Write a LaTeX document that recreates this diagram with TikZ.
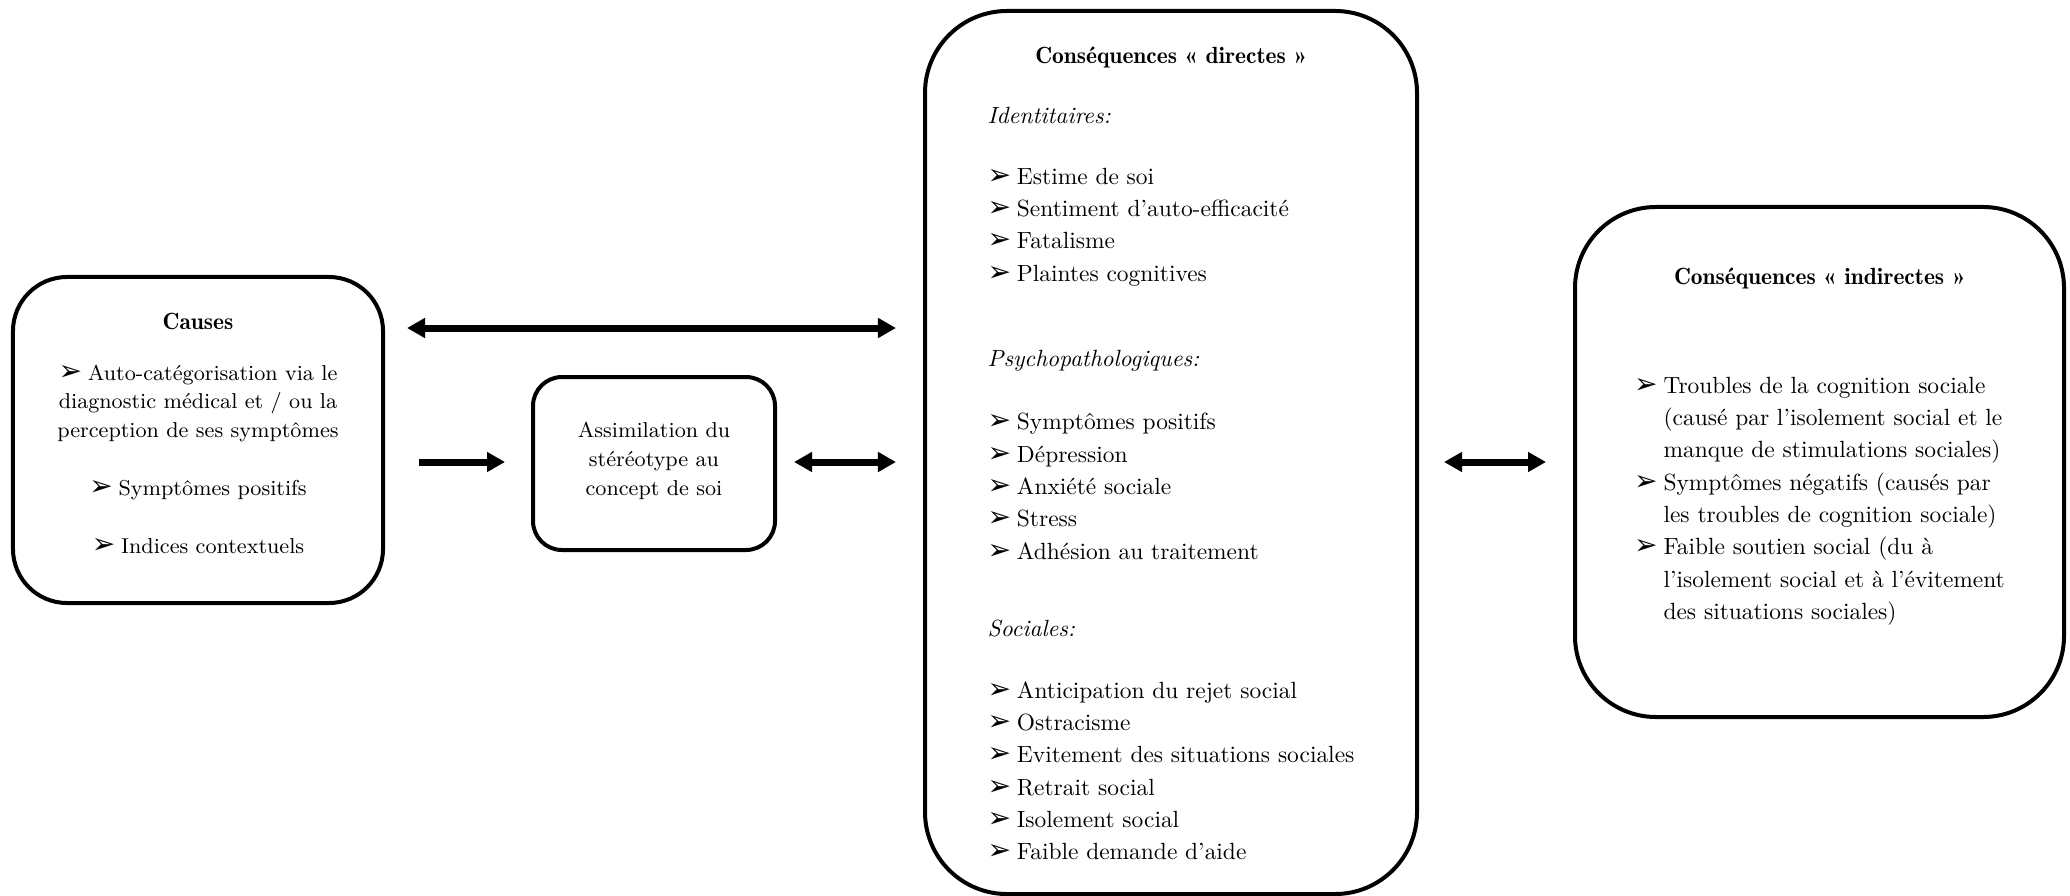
\documentclass[tikz,border=0pt]{standalone}
\usepackage{fontspec}
\newfontfamily\symfont{DejaVu Sans}
\usetikzlibrary{calc,arrows.meta}

\newcommand\corps{\fontsize{10}{13.8}\selectfont}
\newcommand\petit{\fontsize{9.2}{12.2}\selectfont}
\newcommand\titre{\fontseries{b}\fontsize{10}{13.8}\selectfont}
\newcommand\puce{\makebox[4.4mm][l]{\symfont\fontsize{12}{12}\selectfont ➢}}
\newcommand\retrait{\hspace*{4.4mm}}

\tikzset{
  boite/.style={draw, line width=0.6mm, rounded corners=#1, inner sep=0pt},
  fleche/.style={line width=1.05mm, -{Triangle[length=2.7mm, width=2.85mm]}},
  bifleche/.style={line width=1.05mm, {Triangle[length=2.7mm, width=2.85mm]}-{Triangle[length=2.7mm, width=2.85mm]}}
}

\begin{document}
\begin{tikzpicture}[x=0.15mm, y=-0.15mm]
  \useasboundingbox (0,0) rectangle (2070,896);
  % boxes
  \node[boite=8.1mm, minimum width=55.5mm, minimum height=48.9mm, font=\petit] (causes) at (198,440) {%
    \begin{tabular}{@{}c@{}}
      \titre Causes\\[3.23mm]
      \puce Auto-catégorisation via le\\
      diagnostic médical et / ou la\\
      perception de ses symptômes\\[4.43mm]
      \puce Symptômes positifs\\[4.43mm]
      \puce Indices contextuels\\[1.2mm]
    \end{tabular}};
  \node[boite=4.35mm, minimum width=36.3mm, minimum height=25.95mm, font=\fontsize{9.2}{12.4}\selectfont] (assim) at (654,463.5) {%
    \begin{tabular}{@{}c@{}}
      Assimilation du\\
      stéréotype au\\
      concept de soi\\[0.9mm]
    \end{tabular}};
  \node[boite=12.3mm, minimum width=73.8mm, minimum height=132.45mm, font=\corps] (direct) at (1171,452.5) {%
    \begin{tabular}{@{}l@{}}
      \multicolumn{1}{@{}c@{}}{\rule{0pt}{4.15mm}\titre Conséquences «~directes~»}\\[4.14mm]
      \textit{Identitaires:}\\[4.29mm]
      \puce Estime de soi\\
      \puce Sentiment d’auto-efficacité\\
      \puce Fatalisme\\
      \puce Plaintes cognitives\\[8.04mm]
      \textit{Psychopathologiques:}\\[4.59mm]
      \puce Symptômes positifs\\
      \puce Dépression\\
      \puce Anxiété sociale\\
      \puce Stress\\
      \puce Adhésion au traitement\\[6.69mm]
      \textit{Sociales:}\\[4.44mm]
      \puce Anticipation du rejet social\\
      \puce Ostracisme\\
      \puce Evitement des situations sociales\\
      \puce Retrait social\\
      \puce Isolement social\\
      \puce Faible demande d’aide
    \end{tabular}};
  \node[boite=12.15mm, minimum width=73.35mm, minimum height=76.5mm, font=\corps] (indirect) at (1819.5,462) {%
    \begin{tabular}{@{}l@{}}
      \multicolumn{1}{@{}c@{}}{\titre Conséquences «~indirectes~»}\\[11.49mm]
      \puce Troubles de la cognition sociale\\
      \retrait (causé par l’isolement social et le\\
      \retrait manque de stimulations sociales)\\
      \puce Symptômes négatifs (causés par\\
      \retrait les troubles de cognition sociale)\\
      \puce Faible soutien social (du à\\
      \retrait l’isolement social et à l’évitement\\
      \retrait des situations sociales)\\[4.95mm]
    \end{tabular}};
  % arrows
  \coordinate (haut) at (0,328);
  \coordinate (milieu) at (0,462);
  \draw[bifleche] ($(causes.east |- haut)+(22,0)$) -- ($(direct.west |- haut)+(-27,0)$);
  \draw[fleche] ($(causes.east |- milieu)+(34,0)$) -- ($(assim.west |- milieu)+(-26,0)$);
  \draw[bifleche] ($(assim.east |- milieu)+(17,0)$) -- ($(direct.west |- milieu)+(-27,0)$);
  \draw[bifleche] ($(direct.east |- milieu)+(25,0)$) -- ($(indirect.west |- milieu)+(-27,0)$);
\end{tikzpicture}
\end{document}
